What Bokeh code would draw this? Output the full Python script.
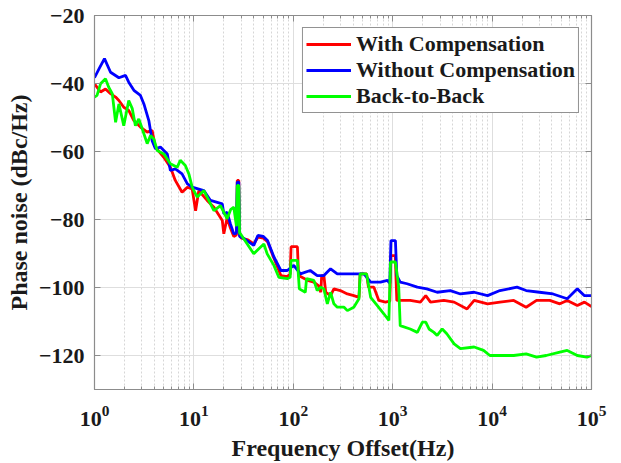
from bokeh.plotting import figure
from bokeh.models import (LinearAxis, LogAxis, Legend, LegendItem, FixedTicker, LogTicker,
                          Range1d, CustomJSTickFormatter)
from bokeh.embed import file_html
from bokeh.resources import INLINE

# ---- data ----
red_f = [1, 1.15, 1.29, 1.45, 1.63, 1.76, 1.97, 2.21, 2.49, 2.9, 3.39, 3.8, 4.1, 4.98,
         5.8, 6.5, 7.6, 8.6, 9.6, 10.4, 11.2, 13.6, 15.9, 19.3, 20, 21.6, 23.3, 25.2,
         26.8, 27.3, 28.3, 28.8, 30, 35, 40, 44, 50, 55, 64, 75, 87, 93, 95, 110, 113,
         139, 161, 180, 189, 193, 203, 212, 237, 256, 297, 350, 406, 458, 470, 546, 570,
         647, 725, 845, 935, 960, 1060, 1100, 1190, 1500, 1900, 2150, 2400, 3270, 4150,
         5600, 6600, 9000, 12000, 16500, 22000, 28000, 38000, 48000, 57000, 72000,
         85000, 100000]
red_db = [-40.1, -42.5, -41.6, -43.0, -44.0, -45.0, -47.0, -47.9, -50.9, -52.8, -54.3,
          -53.8, -58.7, -61.7, -64.6, -68.5, -72.0, -70.5, -71.0, -77.4, -71.5, -74.4,
          -76.4, -80.3, -84.2, -79.5, -82.5, -85.0, -84.5, -68.5, -68.5, -84.5, -85.5,
          -86.0, -87.2, -85.2, -85.5, -86.5, -91.5, -96.5, -96.8, -96.0, -88.0, -88.0,
          -96.5, -97.9, -98.4, -99.5, -101.4, -96.5, -96.5, -101.4, -102.4, -100.4,
          -100.9, -101.9, -102.4, -102.9, -96.0, -96.0, -99.9, -99.9, -103.8, -104.3,
          -104.0, -90.6, -90.6, -103.8, -103.8, -103.8, -104.3, -102.4, -104.3, -103.8,
          -104.3, -106.3, -103.8, -104.8, -104.3, -103.8, -105.8, -103.8, -103.8,
          -104.8, -103.8, -105.3, -104.3, -105.6]

blue_f = [1, 1.12, 1.26, 1.45, 1.76, 2.05, 2.21, 2.49, 2.9, 3.14, 3.52, 3.8, 4.1, 4.6,
          5.4, 5.8, 6.5, 7.6, 8.6, 9.6, 12.6, 14.7, 19.3, 20, 21.6, 23.3, 25.2, 26.8,
          27.3, 28.3, 28.8, 32, 40, 44, 50, 55, 64, 75, 87, 101, 118, 148, 174, 203, 237,
          277, 350, 440, 514, 600, 755, 885, 935, 960, 1065, 1100, 1190, 1395, 1770,
          2205, 2800, 3800, 4800, 6600, 9000, 12000, 17800, 22000, 30000, 41000, 57000,
          72000, 85000, 100000]
blue_db = [-38.3, -35.5, -32.7, -36.7, -38.3, -37.6, -39.6, -42.0, -43.5, -46.0, -50.9,
           -56.8, -59.2, -58.7, -60.7, -65.6, -65.1, -66.6, -69.5, -70.5, -71.5, -74.4,
           -75.4, -78.3, -77.9, -81.3, -84.2, -84.0, -69.0, -69.0, -85.0, -85.6, -87.6,
           -84.7, -85.0, -86.2, -91.1, -95.0, -95.0, -93.5, -96.0, -95.0, -96.5, -96.5,
           -94.5, -96.0, -96.0, -96.0, -96.0, -98.4, -98.4, -97.9, -98.8, -86.2, -86.2,
           -96.5, -98.4, -98.9, -99.9, -100.4, -101.4, -100.9, -101.9, -101.4, -102.4,
           -100.9, -99.9, -100.9, -101.4, -101.9, -103.3, -100.4, -102.4, -102.4]

green_f = [1, 1.06, 1.15, 1.29, 1.39, 1.51, 1.63, 1.76, 1.97, 2.21, 2.4, 2.58, 2.79,
           3.02, 3.39, 3.66, 3.95, 4.27, 4.98, 5.8, 6.8, 7.3, 8.2, 8.9, 9.6, 10.8, 12.6,
           15.9, 18.5, 21.6, 23.5, 25.2, 26.8, 27.3, 28.3, 28.8, 29.4, 34.4, 40, 45,
           50.6, 54.6, 63.8, 71.5, 87, 93, 95, 110, 115, 132, 136, 161, 174, 189, 203,
           220, 237, 256, 277, 324, 350, 406, 458, 470, 546, 600, 700, 818, 915, 950,
           1065, 1150, 1190, 1500, 1770, 1990, 2150, 2320, 2600, 2800, 3150, 3500, 4150,
           4800, 6600, 8200, 9500, 12000, 16500, 22000, 28000, 35000, 48000, 57000,
           72000, 90000, 100000]
green_db = [-44.0, -43.5, -40.1, -38.6, -41.1, -43.0, -51.4, -46.0, -52.4, -45.0, -47.4,
            -52.4, -50.4, -53.3, -57.7, -55.3, -56.3, -59.7, -60.7, -63.6, -64.6, -62.6,
            -64.1, -66.6, -70.5, -73.4, -71.5, -77.4, -75.9, -79.8, -77.0, -76.4, -82.0,
            -70.0, -70.0, -84.0, -84.2, -87.2, -90.1, -88.6, -87.2, -90.1, -93.5, -97.0,
            -97.4, -97.0, -92.0, -92.0, -100.4, -101.4, -97.4, -97.9, -100.9, -99.9,
            -100.4, -104.8, -101.4, -104.8, -105.8, -105.8, -106.8, -105.8, -103.3,
            -96.0, -96.0, -102.9, -105.3, -107.8, -109.7, -92.5, -92.5, -99.9, -111.2,
            -112.2, -113.2, -110.2, -110.2, -112.2, -113.2, -114.1, -112.2, -113.6,
            -116.6, -118.0, -117.5, -118.5, -120.0, -120.0, -120.0, -119.5, -120.5,
            -120.0, -119.0, -118.5, -120.0, -120.5, -120.0]

series_names = ["With Compensation", "Without Compensation", "Back-to-Back"]
series_colors = ["#ff0000", "#0000ff", "#00ff00"]

y_ticks = [-120, -100, -80, -60, -40, -20]

FONT = "Liberation Serif"
TXT = "#1a1a1a"
AX = "#8c8c8c"

p = figure(width=621, height=463, x_axis_type="log",
           x_range=Range1d(1, 1e5), y_range=Range1d(-130, -20),
           output_backend="svg", toolbar_location=None,
           min_border_left=94, min_border_right=30,
           min_border_top=15, min_border_bottom=74)
p.outline_line_color = AX
p.background_fill_color = "white"
p.border_fill_color = "white"

xt = LogTicker(desired_num_ticks=6, num_minor_ticks=10)
yt = FixedTicker(ticks=y_ticks, minor_ticks=[])

p.xaxis.ticker = xt
p.yaxis.ticker = yt


def style_ticks(ax):
    ax.axis_line_color = AX
    ax.axis_line_width = 1.2
    ax.major_tick_line_color = AX
    ax.minor_tick_line_color = AX
    ax.major_tick_in = 6
    ax.major_tick_out = 0
    ax.minor_tick_in = 3
    ax.minor_tick_out = 0


for ax in (p.xaxis[0], p.yaxis[0]):
    style_ticks(ax)
    ax.major_label_text_font = FONT
    ax.major_label_text_font_style = "bold"
    ax.major_label_text_font_size = "22px"
    ax.major_label_text_color = TXT
    ax.axis_label_text_font = FONT
    ax.axis_label_text_font_style = "bold"
    ax.axis_label_text_font_size = "24px"
    ax.axis_label_text_color = TXT

p.xaxis.axis_label = "Frequency Offset(Hz)"
p.yaxis.axis_label = "Phase noise (dBc/Hz)"
p.xaxis.major_label_standoff = 16
p.xaxis.axis_label_standoff = 6
p.yaxis.major_label_standoff = 10
p.yaxis.axis_label_standoff = 4

# mirrored tick marks on the top and right edges (box)
top = LogAxis(ticker=LogTicker(desired_num_ticks=6, num_minor_ticks=10),
              formatter=CustomJSTickFormatter(code="return ' '"))
right = LinearAxis(ticker=FixedTicker(ticks=y_ticks, minor_ticks=[]),
                   formatter=CustomJSTickFormatter(code="return ' '"))
for ax in (top, right):
    style_ticks(ax)
    ax.major_label_text_font_size = "2px"
    ax.major_label_text_alpha = 0
    ax.major_label_standoff = 0
p.add_layout(top, "above")
p.add_layout(right, "right")

p.xgrid.grid_line_color = "#dedede"
p.xgrid.minor_grid_line_color = "#d6d6d6"
p.xgrid.minor_grid_line_dash = "2 2"
p.ygrid.grid_line_color = "#dedede"

renderers = []
for f, db, c in zip([red_f, blue_f, green_f], [red_db, blue_db, green_db], series_colors):
    r = p.line(f, db, line_color=c, line_width=2.8)
    renderers.append(r)

legend = Legend(items=[LegendItem(label=n, renderers=[r]) for n, r in zip(series_names, renderers)],
                location="top_right")
legend.label_text_font = FONT
legend.label_text_font_style = "bold"
legend.label_text_font_size = "22px"
legend.label_text_color = TXT
legend.border_line_color = "#262626"
legend.border_line_width = 1
legend.glyph_width = 45
legend.glyph_height = 26
legend.label_height = 26
legend.spacing = 0
legend.padding = 3
legend.margin = 12
legend.label_standoff = 5
legend.background_fill_alpha = 1
p.add_layout(legend)

open("out.html", "w").write(file_html(p, INLINE))
